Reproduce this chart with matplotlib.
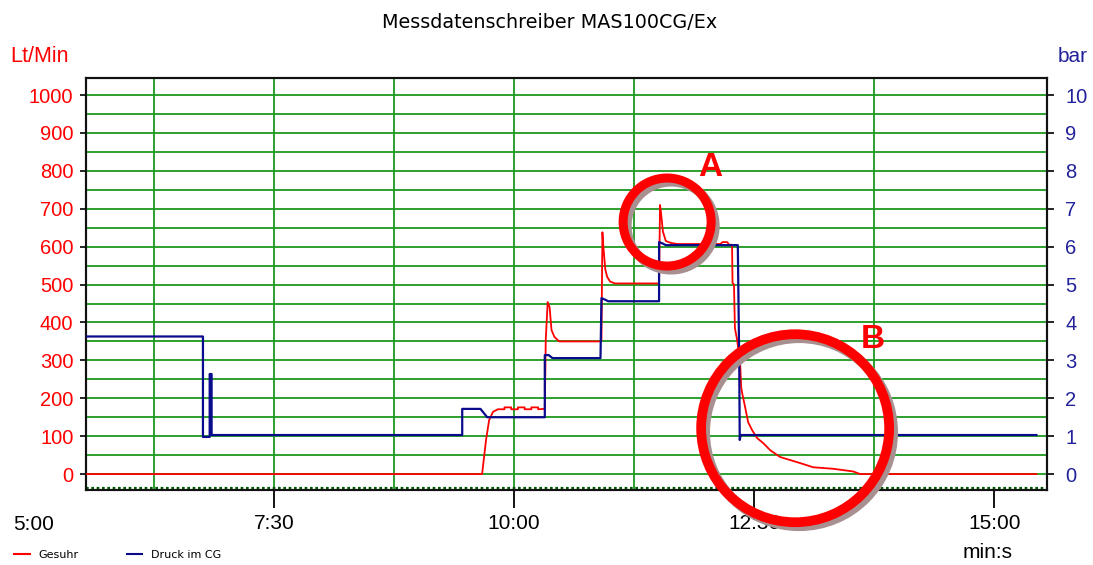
import matplotlib
matplotlib.use("Agg")
import matplotlib.pyplot as plt
from matplotlib.patches import Ellipse
from matplotlib.lines import Line2D
import matplotlib.transforms as mtransforms

plt.rcParams['font.family'] = ['Liberation Sans', 'DejaVu Sans']

# ---- data (time in minutes) ----
flow_t = [5.54, 9.667, 9.708, 9.74, 9.78, 9.83, 9.90, 9.90, 9.97, 9.97, 10.04, 10.04,
          10.11, 10.11, 10.18, 10.18, 10.25, 10.25, 10.32, 10.33, 10.35, 10.37, 10.39,
          10.42, 10.47, 10.90, 10.91, 10.92, 10.93, 10.95, 10.97, 11.00, 11.05, 11.51,
          11.52, 11.53, 11.55, 11.58, 11.63, 11.70, 12.15, 12.17, 12.22, 12.24, 12.27,
          12.275, 12.29, 12.30, 12.323, 12.354, 12.365, 12.375, 12.406, 12.4375, 12.479,
          12.531, 12.594, 12.667, 12.771, 12.875, 12.979, 13.115, 13.323, 13.531, 13.604,
          15.44]
flow_v = [0, 0, 90, 142, 164, 171, 171, 176, 176, 171, 171, 176,
          176, 171, 171, 176, 176, 171, 172, 354, 454, 440, 380,
          362, 350, 350, 352, 638, 600, 540, 520, 508, 503, 503,
          710, 690, 640, 615, 610, 607, 607, 612, 612, 605, 605,
          504, 500, 385, 354, 293, 230, 214, 177, 137, 116,
          95, 82, 63, 45, 37, 29, 18, 14, 7, 0,
          0]

press_t = [5.54, 6.76, 6.76, 6.83, 6.83, 6.85, 6.85, 9.46, 9.46, 9.65, 9.72, 10.32,
           10.32, 10.36, 10.40, 10.90, 10.91, 10.95, 10.98, 11.51, 11.51, 11.55,
           11.58, 12.33, 12.345, 12.35, 12.36, 15.44]
press_v = [3.63, 3.63, 0.98, 0.98, 2.64, 2.64, 1.03, 1.03, 1.72, 1.72, 1.50, 1.50,
           3.14, 3.14, 3.06, 3.06, 4.64, 4.60, 4.56, 4.56, 6.12, 6.08,
           6.04, 6.04, 2.93, 0.90, 1.03, 1.03]

xtick_pos = [7.5, 10.0, 12.5, 15.0]
xtick_lab = ["7:30", "10:00", "12:30", "15:00"]
vgrid_pos = [6.25, 7.5, 8.75, 10.0, 11.25, 13.75]
left_ticks = list(range(0, 1001, 100))
right_ticks = list(range(0, 11))

RED = '#ff0000'
NAVY = '#0a0a8c'
NAVY_TXT = '#22229a'
GREEN = '#1d9a1d'

fig = plt.figure(figsize=(10.93, 5.65), dpi=100)
ax = fig.add_axes([86/1093, 1-490/565, (1047-86)/1093, (490-78)/565])
ax.set_xlim(5.542, 15.55)
ax.set_ylim(-42, 1045)

# grid
for y in range(0, 1001, 50):
    ax.axhline(y, color=GREEN, lw=1.3, zorder=1)
for x in vgrid_pos:
    ax.axvline(x, color=GREEN, lw=1.3, zorder=1)
ax.axhline(-37, color='#005500', lw=1.6, ls=(0, (1.2, 1.2)), zorder=1)

# right axis as scaled twin
ax2 = ax.twinx()
ax2.set_ylim(-0.42, 10.45)

ax.plot(flow_t, flow_v, color=RED, lw=1.3, zorder=3)
ax.plot(press_t, [v * 100 for v in press_v], color=NAVY, lw=1.6, zorder=4)

for a in (ax, ax2):
    for s in a.spines.values():
        s.set_linewidth(1.5)
        s.set_color('#111111')

ax.set_yticks(left_ticks)
ax.set_yticklabels([str(v) for v in left_ticks], color=RED, fontsize=14.5)
ax.tick_params(axis='y', length=4, width=1.2, pad=5)
ax2.set_yticks(right_ticks)
ax2.set_yticklabels([str(v) for v in right_ticks], color=NAVY_TXT, fontsize=14.5)
ax2.tick_params(axis='y', length=5, width=1.2, pad=8)

ax.set_xticks(xtick_pos)
ax.set_xticklabels(xtick_lab, fontsize=15)
ax.tick_params(axis='x', length=13, width=1.3, pad=4)
trans = mtransforms.blended_transform_factory(ax.transData, ax.transAxes)
ax.text(5.0, -25.5 / 412, "5:00", transform=trans, ha='center', va='top', fontsize=15, clip_on=False)

# titles and labels
fig.text(0.5025, 1-22/565, "Messdatenschreiber MAS100CG/Ex", ha='center', va='center', fontsize=13.8,
         family=['DejaVu Sans'])
fig.text(40/1093, 1-57/565, "Lt/Min", ha='center', va='center', fontsize=15.5, color=RED)
fig.text(1073/1093, 1-57/565, "bar", ha='center', va='center', fontsize=15, color=NAVY_TXT)
fig.text(988/1093, 1-553/565, "min:s", ha='center', va='center', fontsize=15)

# legend
handles = [Line2D([0], [0], color=RED, lw=1.5), Line2D([0], [0], color=NAVY, lw=1.5)]
fig.legend(handles, ["Gesuhr", "Druck im CG"], loc='lower left', bbox_to_anchor=(0.004, -0.008),
           ncol=2, frameon=False, handlelength=1.4, columnspacing=4.3, handletextpad=0.8,
           prop={'family': ['DejaVu Sans'], 'size': 8})

# annotation circles
px_x = 961 / (15.55 - 5.542)
px_y = 412 / (1045 + 42)

def ring(cx, cy, r, lw):
    w = 2 * r / px_x
    h = 2 * r / px_y
    sh = Ellipse((cx + 4 / px_x, cy - 4 / px_y), w, h, fill=False, ec='#a89090', lw=lw,
                 zorder=5, clip_on=False, transform=ax.transData)
    ax.add_patch(sh)
    e = Ellipse((cx, cy), w, h, fill=False, ec=RED, lw=lw, zorder=6, clip_on=False,
                transform=ax.transData)
    ax.add_patch(e)

ax.set_zorder(ax2.get_zorder() + 1)
ax.patch.set_visible(False)

ring(11.594, 665, 44, 6.5)
ring(12.927, 121, 94, 7)
ax.text(12.04, 810, "A", color=RED, fontsize=24, fontweight='bold', ha='center', va='center', zorder=7)
ax.text(13.74, 354, "B", color=RED, fontsize=24, fontweight='bold', ha='center', va='center', zorder=7)

fig.savefig("out.png", dpi=100)
